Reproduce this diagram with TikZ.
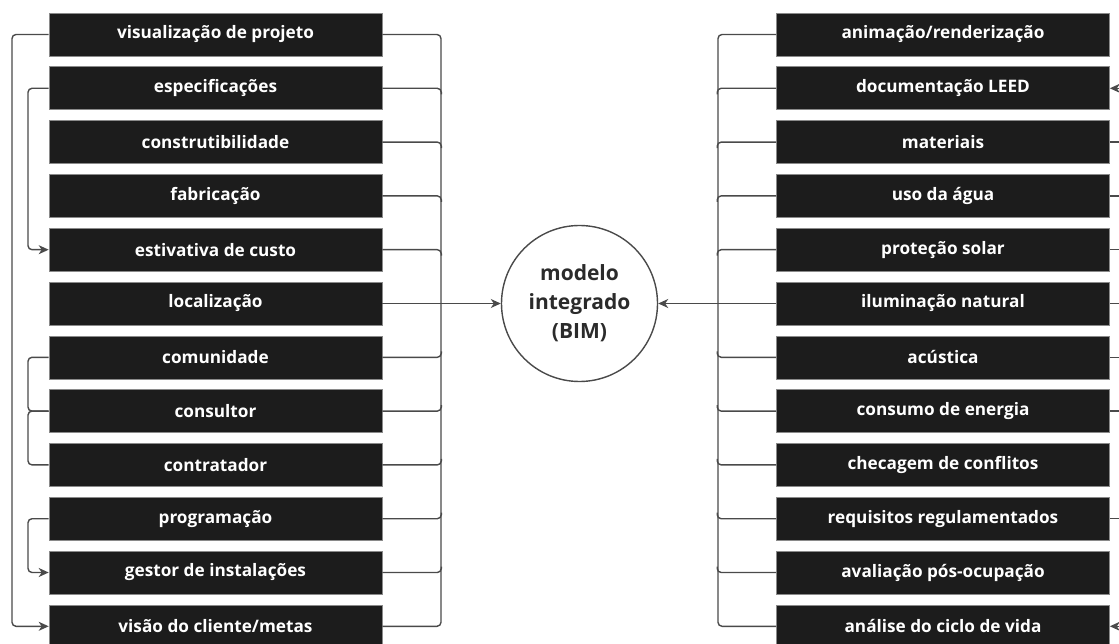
\documentclass[tikz,border=0pt]{standalone}
\usepackage{fontspec}
\setmainfont{Open Sans}
\usetikzlibrary{arrows.meta,calc}
\definecolor{boxfill}{HTML}{1C1C1C}
\definecolor{boxedge}{HTML}{8A8A8A}
\definecolor{linec}{HTML}{4A4A4A}
\definecolor{hubtext}{HTML}{2B2B2B}
\begin{document}
\begin{tikzpicture}[x=1pt,y=-1pt,
 item/.style={fill=boxfill,draw=boxedge,line width=0.6pt,minimum width=333pt,minimum height=43pt,inner sep=0pt,text=white,font=\bfseries\fontsize{17.2}{20}\selectfont},
 conn/.style={draw=linec,line width=1.4pt,rounded corners=4pt},
 arr/.style={conn,-{Stealth[length=10pt,width=9pt,inset=3pt]}},
 hub/.style={circle,draw=linec,fill=white,line width=1.4pt,minimum size=156pt,inner sep=0pt,align=center,text=hubtext,font=\bfseries\fontsize{21}{29}\selectfont}]
\useasboundingbox (0,0) rectangle (1119,644);
% left column
\node[item] (L0)  at (215.5,34.5)  {visualização de projeto};
\node[item] (L1)  at (215.5,88.3)  {especificações};
\node[item] (L2)  at (215.5,142.1) {construtibilidade};
\node[item] (L3)  at (215.5,195.9) {fabricação};
\node[item] (L4)  at (215.5,249.7) {estivativa de custo};
\node[item] (L5)  at (215.5,303.5) {localização};
\node[item] (L6)  at (215.5,357.3) {comunidade};
\node[item] (L7)  at (215.5,411.1) {consultor};
\node[item] (L8)  at (215.5,464.9) {contratador};
\node[item] (L9)  at (215.5,518.7) {programação};
\node[item] (L10) at (215.5,572.5) {gestor de instalações};
\node[item] (L11) at (215.5,626.3) {visão do cliente/metas};
% right column
\node[item] (R0)  at (943,34.5)  {animação/renderização};
\node[item] (R1)  at (943,88.3)  {documentação LEED};
\node[item] (R2)  at (943,142.1) {materiais};
\node[item] (R3)  at (943,195.9) {uso da água};
\node[item] (R4)  at (943,249.7) {proteção solar};
\node[item] (R5)  at (943,303.5) {iluminação natural};
\node[item] (R6)  at (943,357.3) {acústica};
\node[item] (R7)  at (943,411.1) {consumo de energia};
\node[item] (R8)  at (943,464.9) {checagem de conflitos};
\node[item] (R9)  at (943,518.7) {requisitos regulamentados};
\node[item] (R10) at (943,572.5) {avaliação pós-ocupação};
\node[item] (R11) at (943,626.3) {análise do ciclo de vida};
% hub
\node[hub] (C) at (579.5,303.5) {modelo\\integrado\\(BIM)};
% bus coordinates
\coordinate (bL) at (441,330);
\coordinate (bR) at (718,330);
\coordinate (oL) at (12,330);
\coordinate (iA) at (28,170);
\coordinate (iB) at (28,380);
\coordinate (iC) at (28,440);
\coordinate (iD) at (28,545);
% left bus
\draw[conn] (L0.east) -| (bL) |- (L11.east);
\foreach \i in {1,2,3,4} \draw[conn] (L\i.east) -| ($(L\i.east)+(59,6)$);
\foreach \i in {6,7,8,9,10} \draw[conn] (L\i.east) -| ($(L\i.east)+(59,-6)$);
\draw[arr] (L5.east) -- (C.west);
% right bus
\draw[conn] (R0.west) -| (bR) |- (R11.west);
\foreach \i in {1,2,3,4} \draw[conn] (R\i.west) -| ($(R\i.west)+(-59,6)$);
\foreach \i in {6,7,8,9,10} \draw[conn] (R\i.west) -| ($(R\i.west)+(-59,-6)$);
\draw[arr] (R5.west) -- (C.east);
% left side loops
\draw[arr] (L0.west) -| (oL) |- (L11.west);
\draw[arr] (L1.west) -| (iA) |- (L4.west);
\draw[conn] (L6.west) -| (iB) |- (L7.west);
\draw[conn] (L7.west) -| (iC) |- (L8.west);
\draw[arr] (L9.west) -| (iD) |- (L10.west);
% right edge stubs
\foreach \i in {2,3,4,5,6,7,9} \draw[conn] (R\i.east) -- ($(R\i.east)+(20,0)$);
\draw[arr] ($(R1.east)+(20,0)$) -- (R1.east);
\draw[arr] ($(R11.east)+(20,0)$) -- (R11.east);
\end{tikzpicture}
\end{document}
